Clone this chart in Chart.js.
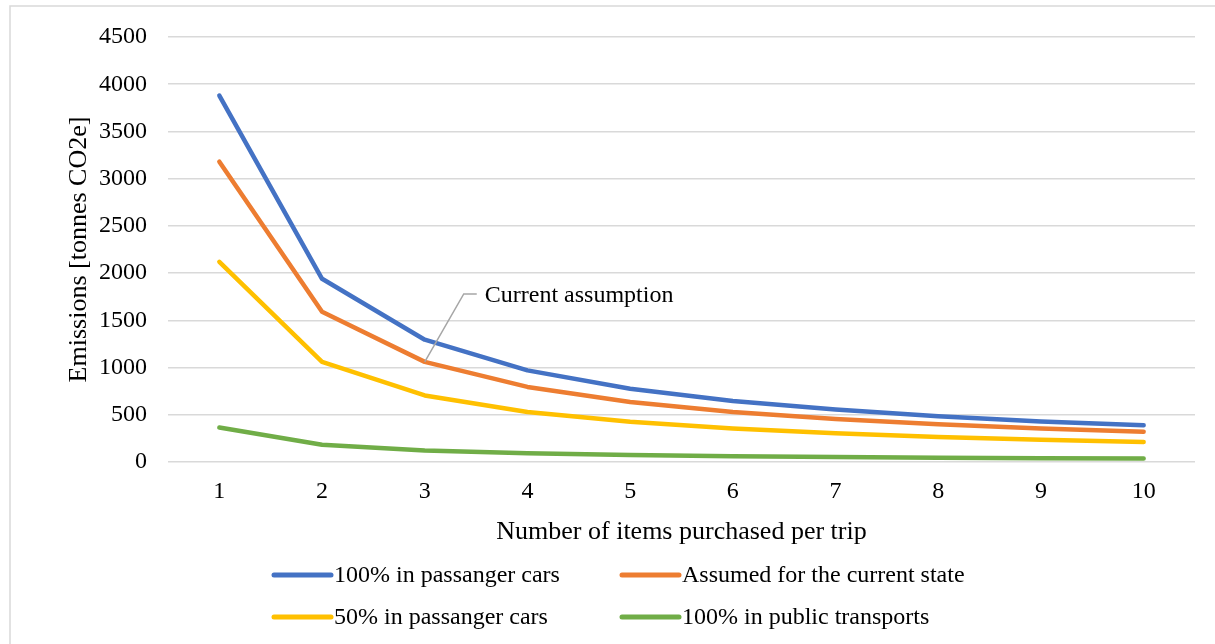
<!DOCTYPE html>
<html>
<head>
<meta charset="utf-8">
<script src="https://cdn.jsdelivr.net/npm/chart.js@4/dist/chart.umd.min.js"></script>
<style>
  html, body { margin: 0; padding: 0; background: #fff; overflow: hidden; }
  #wrap { position: relative; width: 1215px; height: 644px; }
</style>
</head>
<body>
<div id="wrap"><canvas id="chart" width="1215" height="644"></canvas></div>
<script>
// Items purchased per trip
const itemsPerTrip = ['1', '2', '3', '4', '5', '6', '7', '8', '9', '10'];

// Emissions per scenario [tonnes CO2e]
const allPassengerCars = [3880, 1940, 1295, 970, 775, 645, 555, 485, 430, 390];
const currentState     = [3180, 1590, 1060, 795, 635, 530, 455, 400, 355, 320];
const halfPassengerCars = [2120, 1060, 705, 530, 425, 355, 305, 265, 235, 212];
const allPublicTransport = [365, 183, 122, 92, 73, 61, 52, 46, 41, 37];

const seriesNames = [
  '100% in passanger cars',
  'Assumed for the current state',
  '50% in passanger cars',
  '100% in public transports'
];
const seriesColors = ['#4472C4', '#ED7D31', '#FFC000', '#70AD47'];

const yTicks = { min: 0, max: 4500, step: 500 };

const annotationText = 'Current assumption';
const annotationSeries = 1;
const annotationIndex = 2;

const FONT = '"Liberation Serif", "Times New Roman", serif';

function lineDataset(label, data, color) {
  return {
    label, data,
    borderColor: color,
    backgroundColor: color,
    borderWidth: 4.5,
    borderCapStyle: 'round',
    borderJoinStyle: 'round',
    pointRadius: 0,
    pointHoverRadius: 0,
    tension: 0,
    fill: false
  };
}

// Frame around the whole figure
const framePlugin = {
  id: 'frame',
  beforeDraw(chart) {
    const ctx = chart.ctx;
    ctx.save();
    ctx.fillStyle = '#fff';
    ctx.fillRect(0, 0, chart.width, chart.height);
    ctx.strokeStyle = '#d9d9d9';
    ctx.lineWidth = 1.5;
    ctx.strokeRect(10, 6, chart.width + 20, chart.height + 20);
    ctx.restore();
  }
};

// Leader line + note pointing at the current-state curve
const notePlugin = {
  id: 'note',
  afterDatasetsDraw(chart) {
    const xs = chart.scales.x, ys = chart.scales.y;
    const ds = chart.data.datasets[annotationSeries];
    const ax = xs.getPixelForValue(annotationIndex);
    const ay = ys.getPixelForValue(ds.data[annotationIndex]);
    const ex = ax + 39, ey = ay - 68;
    const ctx = chart.ctx;
    ctx.save();
    ctx.strokeStyle = '#a6a6a6';
    ctx.lineWidth = 1.5;
    ctx.beginPath();
    ctx.moveTo(ax, ay);
    ctx.lineTo(ex, ey);
    ctx.lineTo(ex + 13, ey);
    ctx.stroke();
    ctx.fillStyle = '#000';
    ctx.font = '24px ' + FONT;
    ctx.textAlign = 'left';
    ctx.textBaseline = 'middle';
    ctx.fillText(annotationText, ex + 21, ey + 2);
    ctx.restore();
  }
};

// Two-column legend under the axis title
const legendPlugin = {
  id: 'gridLegend',
  afterDraw(chart) {
    const ctx = chart.ctx;
    const cols = [274, 622];
    const rows = [575, 617];
    const lineLen = 57;
    ctx.save();
    ctx.font = '24px ' + FONT;
    ctx.textAlign = 'left';
    ctx.textBaseline = 'middle';
    chart.data.datasets.forEach((ds, i) => {
      const x = cols[i % 2], y = rows[Math.floor(i / 2)];
      ctx.strokeStyle = ds.borderColor;
      ctx.lineWidth = 5;
      ctx.lineCap = 'round';
      ctx.beginPath();
      ctx.moveTo(x, y);
      ctx.lineTo(x + lineLen, y);
      ctx.stroke();
      ctx.fillStyle = '#000';
      ctx.fillText(ds.label, x + lineLen + 3, y + 1);
    });
    ctx.restore();
  }
};

new Chart(document.getElementById('chart'), {
  type: 'line',
  data: {
    labels: itemsPerTrip,
    datasets: [
      lineDataset(seriesNames[0], allPassengerCars, seriesColors[0]),
      lineDataset(seriesNames[1], currentState, seriesColors[1]),
      lineDataset(seriesNames[2], halfPassengerCars, seriesColors[2]),
      lineDataset(seriesNames[3], allPublicTransport, seriesColors[3])
    ]
  },
  options: {
    responsive: false,
    animation: false,
    events: [],
    layout: { padding: { left: 0, right: 20, top: 37, bottom: 92 } },
    plugins: {
      legend: { display: false },
      tooltip: { enabled: false }
    },
    scales: {
      x: {
        type: 'category',
        offset: true,
        grid: { display: false, drawTicks: false },
        border: { display: false },
        ticks: { color: '#000', font: { family: FONT, size: 24 }, padding: 15, maxRotation: 0 },
        title: {
          display: true,
          text: 'Number of items purchased per trip',
          color: '#000',
          font: { family: FONT, size: 26 },
          padding: { top: 0, bottom: 4 }
        },
        afterFit(scale) { scale.height = 90; }
      },
      y: {
        min: yTicks.min,
        max: yTicks.max,
        grid: { color: '#d9d9d9', lineWidth: 1.5, drawTicks: false },
        border: { display: false },
        ticks: {
          stepSize: yTicks.step,
          color: '#000',
          font: { family: FONT, size: 24 },
          padding: 21,
          callback: (v) => String(v)
        },
        title: {
          display: true,
          text: 'Emissions [tonnes CO2e]',
          color: '#000',
          font: { family: FONT, size: 26 },
          padding: { top: 64, bottom: 0 }
        },
        afterFit(scale) { scale.width = 168; }
      }
    }
  },
  plugins: [framePlugin, notePlugin, legendPlugin]
});
</script>
</body>
</html>
